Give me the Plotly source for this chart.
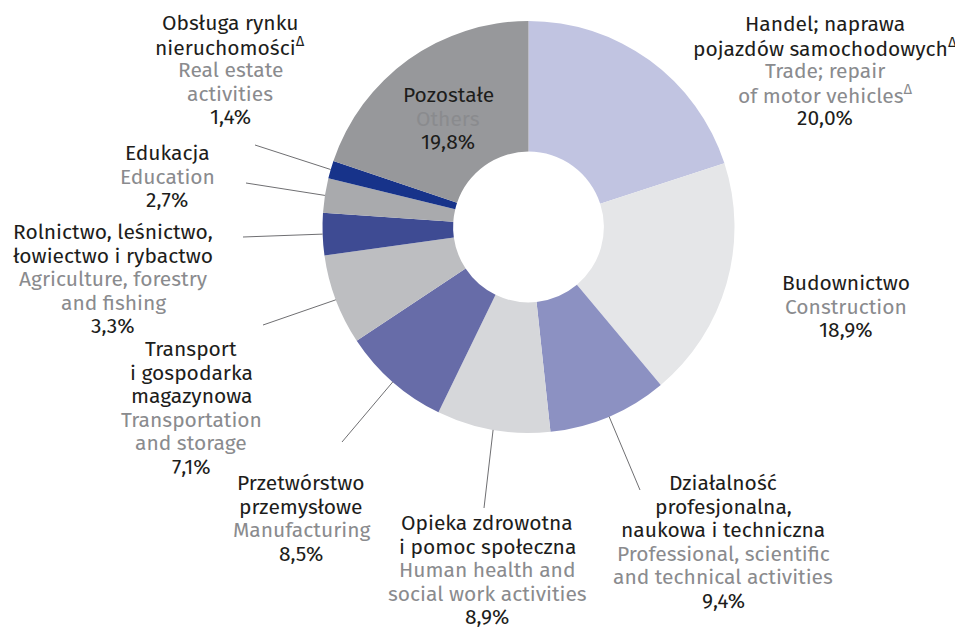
import math
import plotly.graph_objects as go

# ---- data ----
names_pl = [
    ["Handel; naprawa", "pojazdów samochodowych<sup>Δ</sup>"],
    ["Budownictwo"],
    ["Działalność", "profesjonalna,", "naukowa i techniczna"],
    ["Opieka zdrowotna", "i pomoc społeczna"],
    ["Przetwórstwo", "przemysłowe"],
    ["Transport", "i gospodarka", "magazynowa"],
    ["Rolnictwo, leśnictwo,", "łowiectwo i rybactwo"],
    ["Edukacja"],
    ["Obsługa rynku", "nieruchomości<sup>Δ</sup>"],
    ["Pozostałe"],
]
names_en = [
    ["Trade; repair", "of motor vehicles<sup>Δ</sup>"],
    ["Construction"],
    ["Professional, scientific", "and technical activities"],
    ["Human health and", "social work activities"],
    ["Manufacturing"],
    ["Transportation", "and storage"],
    ["Agriculture, forestry", "and fishing"],
    ["Education"],
    ["Real estate", "activities"],
    ["Others"],
]
values = [20.0, 18.9, 9.4, 8.9, 8.5, 7.1, 3.3, 2.7, 1.4, 19.8]
colors = ["#c1c4e1", "#e5e6e8", "#8c91c2", "#d6d7da", "#676ca8",
          "#bdbec1", "#3e4b93", "#a9aaad", "#17338a", "#97989b"]

# ---- layout constants (screen pixels; page body has an 8px offset) ----
W, H = 963, 628
OFF = 8
CX, CY, R = 528.5, 227, 206
HOLE = 0.366
DARK = "#1d1d1b"
GREY = "#8a8b8e"
FONT = "Fira Sans, Open Sans, Noto Sans, sans-serif"
FS = 21
LS = 23.6

# label first-line centre (x, y) and leader-line end points (None = no line)
label_pos = [(825, 24), (846, 283), (723, 483), (487, 523), (301, 483),
             (191, 349), (113, 232), (167, 153), (230, 23), (448, 95)]
leader_end = [None, None, (640, 490), (484, 508), (342, 442),
              (263, 325), (243, 237), (246, 183), (255, 145), None]

fig = go.Figure()
fig.add_trace(go.Pie(
    values=values,
    labels=[" ".join(n) for n in names_pl],
    marker=dict(colors=colors, line=dict(width=0)),
    sort=False, direction="clockwise", rotation=0, hole=HOLE,
    textinfo="none", hoverinfo="label+percent", showlegend=False,
    domain=dict(x=[(CX - OFF - R) / W, (CX - OFF + R) / W],
                y=[1 - (CY - OFF + R) / H, 1 - (CY - OFF - R) / H]),
))

total = sum(values)
cum = 0.0
for i, v in enumerate(values):
    mid = (cum + v / 2) / total * 2 * math.pi
    cum += v
    pct = f"{v:.1f}".replace(".", ",") + "%"
    lines = ([(t, DARK) for t in names_pl[i]] + [(t, GREY) for t in names_en[i]]
             + [(pct, DARK)])
    lx, ly = label_pos[i]
    for k, (t, c) in enumerate(lines):
        fig.add_annotation(x=lx, y=ly + k * LS, xref="x", yref="y", text=t,
                           showarrow=False, xanchor="center", yanchor="middle",
                           align="center", borderpad=0,
                           font=dict(family=FONT, size=FS, color=c))
    if leader_end[i] is not None:
        sx = CX + R * math.sin(mid)
        sy = CY - R * math.cos(mid)
        ex, ey = leader_end[i]
        fig.add_shape(type="line", x0=sx, y0=sy, x1=ex, y1=ey, xref="x", yref="y",
                      line=dict(color="#6f6f72", width=1))

fig.update_layout(
    width=W, height=H,
    margin=dict(l=0, r=0, t=0, b=0),
    paper_bgcolor="white", plot_bgcolor="rgba(0,0,0,0)",
    xaxis=dict(range=[OFF, W + OFF], visible=False, fixedrange=True),
    yaxis=dict(range=[H + OFF, OFF], visible=False, fixedrange=True),
)
fig.write_html("out.html")
